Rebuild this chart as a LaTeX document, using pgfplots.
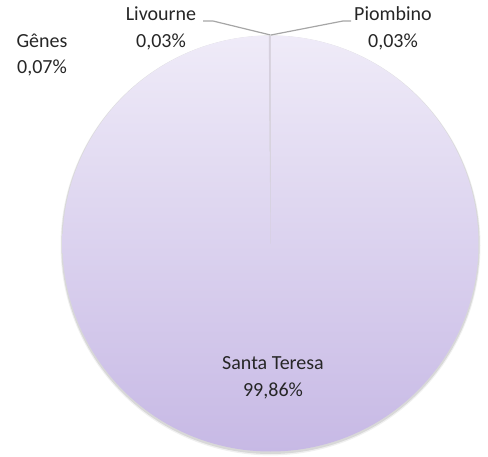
\documentclass[border=0pt]{standalone}
\usepackage{pgfplots}
\pgfplotsset{compat=1.18}
\usepackage{pgfplotstable}
\usepackage{fontspec}
\setmainfont{Carlito}
\definecolor{pietop}{RGB}{239,235,248}
\definecolor{piebot}{RGB}{199,185,229}
\definecolor{sliver}{RGB}{214,208,222}
\definecolor{leader}{RGB}{166,166,166}
\definecolor{lbl}{RGB}{38,38,38}
\pgfplotstableread{
name value
SantaTeresa 99.86
Genes 0.07
Livourne 0.03
Piombino 0.03
}\piedata
\begin{document}
\begin{tikzpicture}
\begin{axis}[
  scale only axis, width=244pt, height=228pt,
  xmin=0, xmax=488, ymin=0, ymax=456,
  hide axis, clip=false,
]
\path (axis cs:0,0) rectangle (axis cs:488,456);
% shadow
\fill[black, opacity=0.10] (axis cs:270.5,211.2) circle[radius=104.6pt];
\fill[black, opacity=0.06] (axis cs:270.5,210.6) circle[radius=105pt];
\def\cumangle{90}
\pgfplotsforeachungrouped \i in {0,...,3}{%
  \pgfplotstablegetelem{\i}{value}\of\piedata
  \let\v\pgfplotsretval
  \pgfmathsetmacro\aend{\cumangle - (360/99.99)*\v}%
  \ifnum\i=0
    \edef\cmd{\noexpand\shade[top color=pietop, bottom color=piebot] (axis cs:270.5,212.5) -- ++(\cumangle:104pt) arc[start angle=\cumangle, end angle=\aend, radius=104pt] -- cycle;}%
  \else
    \edef\cmd{\noexpand\fill[sliver] (axis cs:270.5,212.5) -- ++(\cumangle:104pt) arc[start angle=\cumangle, end angle=\aend, radius=104pt] -- cycle;}%
  \fi
  \cmd
  \global\let\cumangle\aend
}
% leader lines
\draw[leader, line width=0.6pt] (axis cs:203,435) -- (axis cs:213,435) -- (axis cs:270.5,421);
\draw[leader, line width=0.6pt] (axis cs:271,421) -- (axis cs:343,435) -- (axis cs:351,435);
% labels
\tikzset{lab/.style={text=lbl, align=center, inner sep=0pt, font=\fontsize{10}{13.3}\selectfont}}
\node[lab] at (axis cs:42,401) {Gênes\\0,07\%};
\node[lab] at (axis cs:161,427.5) {Livourne\\0,03\%};
\node[lab] at (axis cs:393,427.5) {Piombino\\0,03\%};
\node[lab] at (axis cs:273,78) {Santa Teresa\\99,86\%};
\end{axis}
\end{tikzpicture}
\end{document}
